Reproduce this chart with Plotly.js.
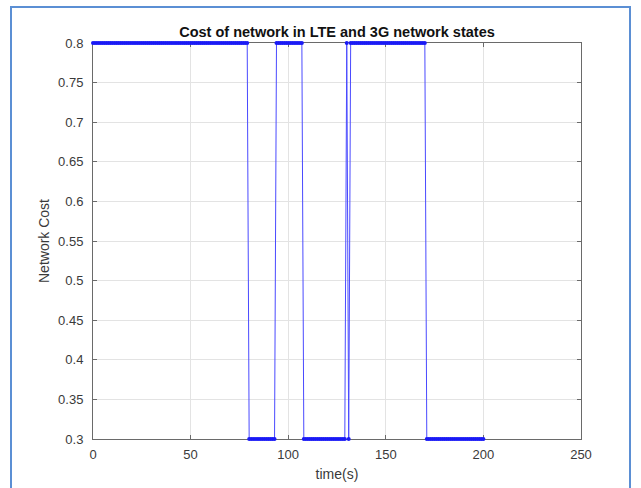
<!DOCTYPE html>
<html>
<head>
<meta charset="utf-8">
<script src="https://cdn.plot.ly/plotly-3.0.1.min.js"></script>
<style>
  html, body { margin: 0; padding: 0; background: #ffffff; }
  #wrap { position: relative; width: 641px; height: 488px; overflow: hidden; }
  #chart { position: absolute; left: 0; top: 0; width: 641px; height: 488px; }
  #frame { position: absolute; left: 10px; top: 6px; width: 621px; height: 490px;
           border: 2px solid #5b8fd4; box-sizing: border-box; pointer-events: none; }
</style>
</head>
<body>
<div id="wrap">
  <div id="chart"></div>
  <div id="frame"></div>
</div>
<script>
// Network cost per second
const cost = [
  0.8,0.8,0.8,0.8,0.8,0.8,0.8,0.8,0.8,0.8,
  0.8,0.8,0.8,0.8,0.8,0.8,0.8,0.8,0.8,0.8,
  0.8,0.8,0.8,0.8,0.8,0.8,0.8,0.8,0.8,0.8,
  0.8,0.8,0.8,0.8,0.8,0.8,0.8,0.8,0.8,0.8,
  0.8,0.8,0.8,0.8,0.8,0.8,0.8,0.8,0.8,0.8,
  0.8,0.8,0.8,0.8,0.8,0.8,0.8,0.8,0.8,0.8,
  0.8,0.8,0.8,0.8,0.8,0.8,0.8,0.8,0.8,0.8,
  0.8,0.8,0.8,0.8,0.8,0.8,0.8,0.8,0.8,0.8,
  0.3,0.3,0.3,0.3,0.3,0.3,0.3,0.3,0.3,0.3,
  0.3,0.3,0.3,0.3,0.8,0.8,0.8,0.8,0.8,0.8,
  0.8,0.8,0.8,0.8,0.8,0.8,0.8,0.8,0.3,0.3,
  0.3,0.3,0.3,0.3,0.3,0.3,0.3,0.3,0.3,0.3,
  0.3,0.3,0.3,0.3,0.3,0.3,0.3,0.3,0.3,0.3,
  0.8,0.3,0.8,0.8,0.8,0.8,0.8,0.8,0.8,0.8,
  0.8,0.8,0.8,0.8,0.8,0.8,0.8,0.8,0.8,0.8,
  0.8,0.8,0.8,0.8,0.8,0.8,0.8,0.8,0.8,0.8,
  0.8,0.8,0.8,0.8,0.8,0.8,0.8,0.8,0.8,0.8,
  0.8,0.3,0.3,0.3,0.3,0.3,0.3,0.3,0.3,0.3,
  0.3,0.3,0.3,0.3,0.3,0.3,0.3,0.3,0.3,0.3,
  0.3,0.3,0.3,0.3,0.3,0.3,0.3,0.3,0.3,0.3,
  0.3
];
// sample instants (seconds)
const time = cost.map((_, i) => i);

const xTicks = [0, 50, 100, 150, 200, 250];
const yTicks = [0.3, 0.35, 0.4, 0.45, 0.5, 0.55, 0.6, 0.65, 0.7, 0.75, 0.8];
const yTickLabels = ['0.3','0.35','0.4','0.45','0.5','0.55','0.6','0.65','0.7','0.75','0.8'];

const trace = {
  x: time, y: cost, type: 'scatter', mode: 'lines+markers',
  line: { color: '#4a4aff', width: 1 },
  marker: { symbol: 'circle', size: 4, color: '#1a1af5', line: { width: 0 } },
  cliponaxis: false,
  hoverinfo: 'skip'
};

const font = 'Liberation Sans, Arial, sans-serif';
const axisCommon = {
  showline: true, linecolor: '#6a6a6a', linewidth: 1, mirror: 'ticks',
  ticks: 'inside', ticklen: 4, tickcolor: '#6a6a6a', tickwidth: 1,
  showgrid: true, gridcolor: '#e3e3e3', gridwidth: 1,
  zeroline: false, layer: 'below traces',
  tickfont: { family: font, size: 13, color: '#3a3a3a' }
};

const layout = {
  width: 641, height: 488,
  margin: { l: 93, r: 60, t: 43, b: 49 },
  paper_bgcolor: 'rgba(0,0,0,0)', plot_bgcolor: '#ffffff',
  showlegend: false,
  title: {
    text: '<b>Cost of network in LTE and 3G network states</b>',
    font: { family: font, size: 14.5, color: '#111111' },
    x: 0.5, xref: 'paper', xanchor: 'center',
    y: 1, yref: 'paper', yanchor: 'bottom', pad: { b: 6 }
  },
  xaxis: Object.assign({}, axisCommon, {
    range: [0, 250], tickvals: xTicks, ticktext: xTicks.map(String),
    ticklabelstandoff: 3,
    title: { text: 'time(s)', standoff: 8,
      font: { family: font, size: 14, color: '#3a3a3a' } }
  }),
  yaxis: Object.assign({}, axisCommon, {
    range: [0.3, 0.8], tickvals: yTicks, ticktext: yTickLabels,
    ticklabelstandoff: 6,
    title: { text: 'Network Cost', standoff: 5,
      font: { family: font, size: 14, color: '#3a3a3a' } }
  })
};

Plotly.newPlot('chart', [trace], layout, { displayModeBar: false, staticPlot: true });
</script>
</body>
</html>
